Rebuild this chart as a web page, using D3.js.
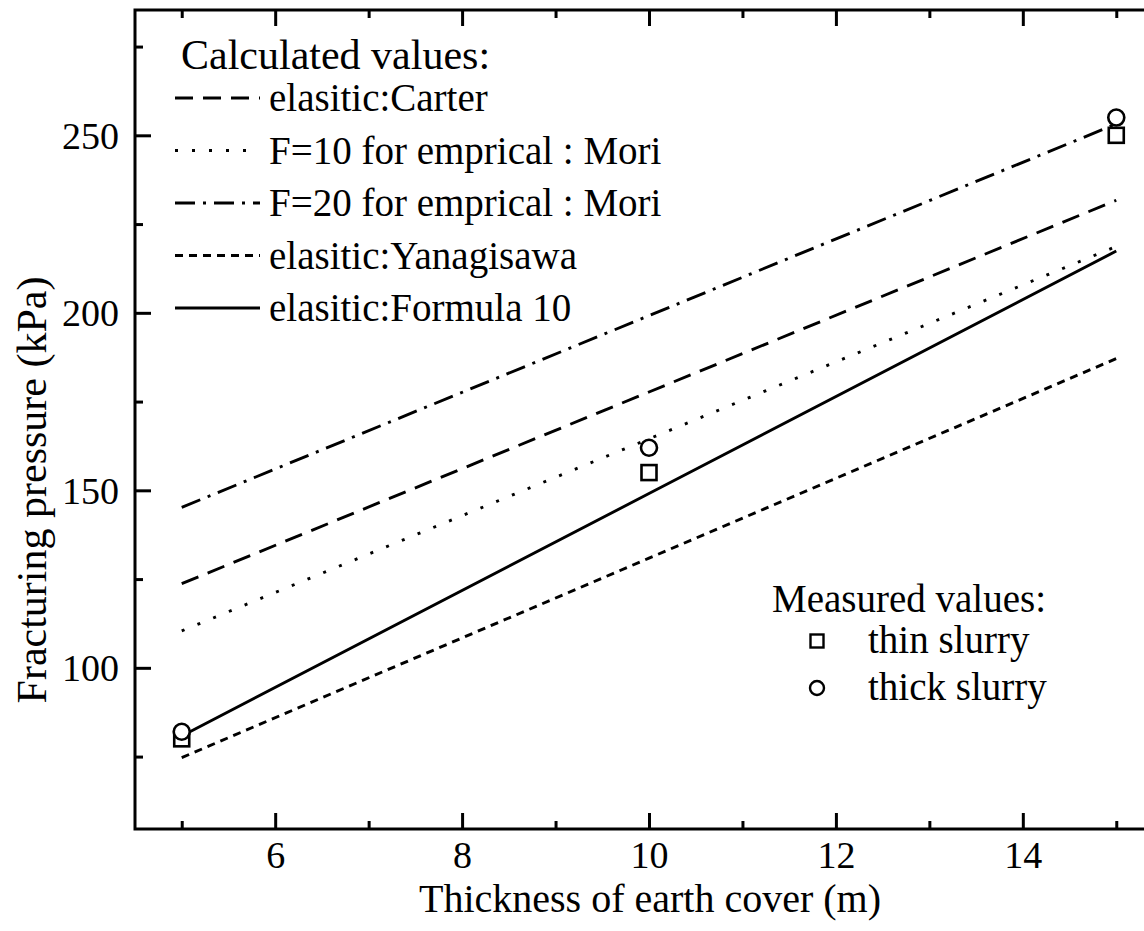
<!DOCTYPE html>
<html>
<head>
<meta charset="utf-8">
<script src="https://cdn.jsdelivr.net/npm/d3@7"></script>
<style>
  html, body { margin: 0; padding: 0; background: #fff; overflow: hidden; }
  svg { display: block; }
</style>
</head>
<body>
<svg id="chart" width="1144" height="931"></svg>
<script>
// Earth-cover thickness (m) at which every series is evaluated
const thickness = [5, 10, 15];

// Calculated fracturing pressure (kPa)
const carter      = [123.7, 177.7, 231.7];
const moriF10     = [110.4, 164.5, 218.7];
const moriF20     = [145.2, 199.2, 253.2];
const yanagisawa  = [74.7, 130.9, 187.1];
const formula10   = [80.8, 149.1, 217.4];

// Measured fracturing pressure (kPa)
const thinSlurry  = [80, 155, 250];
const thickSlurry = [82, 162, 255];

// Axis ticks
const xMajorTicks = [6, 8, 10, 12, 14];
const xMinorTicks = [5, 7, 9, 11, 13, 15];
const yMajorTicks = [100, 150, 200, 250];
const yMinorTicks = [75, 125, 175, 225, 275];

const calcSeries = [
  { name: "elasitic:Carter",            values: carter,     dash: "18,10" },
  { name: "F=10 for emprical : Mori",   values: moriF10,    dash: "3,14" },
  { name: "F=20 for emprical : Mori",   values: moriF20,    dash: "20,8,3,8" },
  { name: "elasitic:Yanagisawa",        values: yanagisawa, dash: "8,6" },
  { name: "elasitic:Formula 10",        values: formula10,  dash: null }
];

const SERIF = "'Liberation Serif', 'Times New Roman', Times, serif";

const svg = d3.select("#chart").style("font-family", SERIF);
const plot = { left: 135, right: 1163, top: 10, bottom: 829 };

const x = d3.scaleLinear().domain([4.5, 15.5]).range([plot.left, plot.right]);
const y = d3.scaleLinear().domain([54.6, 285.3]).range([plot.bottom, plot.top]);

// Calculated lines
const line = d3.line().x(d => x(d[0])).y(d => y(d[1]));
const lines = svg.append("g");
calcSeries.forEach(s => {
  lines.append("path")
    .datum(thickness.map((t, i) => [t, s.values[i]]))
    .attr("d", line)
    .attr("fill", "none")
    .attr("stroke", "#000")
    .attr("stroke-width", 2.9)
    .attr("stroke-dasharray", s.dash);
});

// Measured points
const pts = svg.append("g").attr("fill", "#fff").attr("stroke", "#000").attr("stroke-width", 2.6);
pts.selectAll("rect").data(thickness.map((t, i) => [t, thinSlurry[i]])).join("rect")
  .attr("x", d => x(d[0]) - 7.5).attr("y", d => y(d[1]) - 7.5)
  .attr("width", 15).attr("height", 15);
pts.selectAll("circle").data(thickness.map((t, i) => [t, thickSlurry[i]])).join("circle")
  .attr("cx", d => x(d[0])).attr("cy", d => y(d[1])).attr("r", 8);

// Frame
svg.append("rect")
  .attr("x", plot.left).attr("y", plot.top)
  .attr("width", plot.right - plot.left).attr("height", plot.bottom - plot.top)
  .attr("fill", "none").attr("stroke", "#000").attr("stroke-width", 3);

// Inward ticks via d3 axes
function styleAxis(g) {
  g.attr("font-family", null).attr("font-size", null);
  g.select(".domain").remove();
  g.selectAll(".tick line").attr("stroke", "#000").attr("stroke-width", 3);
  g.selectAll(".tick text").style("font-family", SERIF).style("font-size", "38px").attr("fill", "#000");
}
svg.append("g").attr("transform", `translate(0,${plot.bottom})`)
  .call(d3.axisBottom(x).tickValues(xMajorTicks).tickSize(-16).tickPadding(0).tickFormat(d3.format("d")))
  .call(styleAxis)
  .call(g => g.selectAll(".tick text").attr("y", 39).attr("dy", null));
svg.append("g").attr("transform", `translate(0,${plot.bottom})`)
  .call(d3.axisBottom(x).tickValues(xMinorTicks).tickSize(-8).tickFormat(""))
  .call(styleAxis);
svg.append("g").attr("transform", `translate(0,${plot.top})`)
  .call(d3.axisTop(x).tickValues(xMajorTicks).tickSize(-16).tickFormat(""))
  .call(styleAxis);
svg.append("g").attr("transform", `translate(0,${plot.top})`)
  .call(d3.axisTop(x).tickValues(xMinorTicks).tickSize(-8).tickFormat(""))
  .call(styleAxis);
svg.append("g").attr("transform", `translate(${plot.left},0)`)
  .call(d3.axisLeft(y).tickValues(yMajorTicks).tickSize(-16).tickPadding(0).tickFormat(d3.format("d")))
  .call(styleAxis)
  .call(g => g.selectAll(".tick text").attr("x", -16).attr("dy", "0.34em"));
svg.append("g").attr("transform", `translate(${plot.left},0)`)
  .call(d3.axisLeft(y).tickValues(yMinorTicks).tickSize(-8).tickFormat(""))
  .call(styleAxis);

// Axis titles
svg.append("text")
  .attr("x", 650).attr("y", 912)
  .attr("text-anchor", "middle").style("font-size", "40px")
  .text("Thickness of earth cover (m)");
svg.append("text")
  .attr("transform", `translate(46,${490}) rotate(-90)`)
  .attr("text-anchor", "middle").style("font-size", "42px")
  .text("Fracturing pressure (kPa)");

// Legend: calculated values
const legFont = "39px";
const leg = svg.append("g");
leg.append("text").attr("x", 181).attr("y", 69).style("font-size", "42px").text("Calculated values:");
calcSeries.forEach((s, i) => {
  const cy = 98 + i * 52.5;
  leg.append("line")
    .attr("x1", 175).attr("x2", 260).attr("y1", cy).attr("y2", cy)
    .attr("stroke", "#000").attr("stroke-width", 2.9)
    .attr("stroke-dasharray", s.dash);
  leg.append("text").attr("x", 269).attr("y", cy).attr("dy", "0.34em")
    .style("font-size", legFont).text(s.name);
});

// Legend: measured values
const leg2 = svg.append("g");
leg2.append("text").attr("x", 772).attr("y", 612)
  .style("font-size", legFont).text("Measured values:");
leg2.append("rect").attr("x", 817 - 6.5).attr("y", 641 - 6.5).attr("width", 13).attr("height", 13)
  .attr("fill", "#fff").attr("stroke", "#000").attr("stroke-width", 2.4);
leg2.append("text").attr("x", 868).attr("y", 653)
  .style("font-size", legFont).text("thin slurry");
leg2.append("circle").attr("cx", 817).attr("cy", 688).attr("r", 7)
  .attr("fill", "#fff").attr("stroke", "#000").attr("stroke-width", 2.4);
leg2.append("text").attr("x", 868).attr("y", 700)
  .style("font-size", legFont).text("thick slurry");
</script>
</body>
</html>
